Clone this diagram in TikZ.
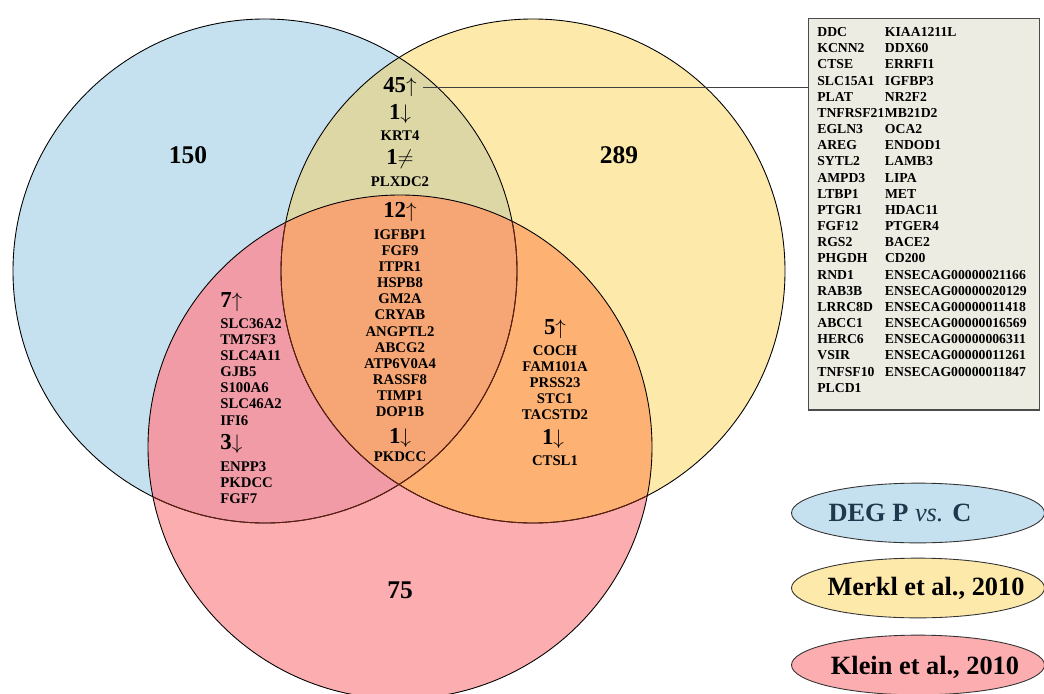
\documentclass[tikz,border=0pt]{standalone}
\usepackage{amsmath, amssymb, xcolor}
\usepackage{fontspec}
\setmainfont{Liberation Serif}
\usepackage{tikz}
\usetikzlibrary{shapes, positioning}

\definecolor{setblue}{RGB}{197,224,238}
\definecolor{setyellow}{RGB}{253,233,170}
\definecolor{setpink}{RGB}{251,173,176}
\definecolor{blueyellow}{RGB}{221,214,165}
\definecolor{bluepink}{RGB}{240,155,166}
\definecolor{yellowpink}{RGB}{253,178,116}
\definecolor{allsets}{RGB}{246,166,116}
\definecolor{innerline}{RGB}{100,30,15}
\definecolor{boxfill}{RGB}{236,236,226}
\definecolor{degtext}{RGB}{31,56,77}

\begin{document}
\begin{tikzpicture}[x=0.02cm, y=-0.02cm]
            \useasboundingbox (0,0) rectangle (1044,693);
            \coordinate (B) at (265,271);
            \coordinate (Y) at (533,271);
            \coordinate (K) at (400,447);

            % the three sets and their overlaps
            \fill[setblue] (B) circle (252);
            \fill[setyellow] (Y) circle (252);
            \fill[setpink] (K) circle (252);
            \begin{scope}
                \clip (B) circle (252);
                \fill[blueyellow] (Y) circle (252);
                \fill[bluepink] (K) circle (252);
            \end{scope}
            \begin{scope}
                \clip (Y) circle (252);
                \fill[yellowpink] (K) circle (252);
                \clip (B) circle (252);
                \fill[allsets] (K) circle (252);
            \end{scope}

            \begin{scope}[line width=0.5pt]
                \draw (B) circle (252);
                \draw (Y) circle (252);
                \draw (K) circle (252);
                \clip (K) circle (252);
                \draw[innerline] (B) circle (252);
                \draw[innerline] (Y) circle (252);
            \end{scope}

            \begin{scope}[every node/.style={font=\bfseries\fontsize{14.5}{16}\selectfont}]
                \node (nB) at (188,155) {150};
                \node (nY) at (619,155) {289};
                \node (nK) at (400,590) {75};
            \end{scope}

            \begin{scope}[count/.style={font=\bfseries\fontsize{13}{14}\selectfont},
                          gene/.style={font=\bfseries\fontsize{8.4}{9.2}\selectfont, inner sep=0pt, align=center}]
                % B and Y
                \node[count] (n45) at (400,87) {45$\uparrow$};
                \node[count] (n1a) at (400,114) {1$\downarrow$};
                \node[gene] (krt) at (400,136) {KRT4};
                \node[count] (n1b) at (400,159) {1$\neq$};
                \node[gene] (plx) at (400,182) {PLXDC2};
                % B, Y and K
                \node[count] (n12) at (400,212) {12$\uparrow$};
                \node[gene, anchor=north] (core) at (400,229) {IGFBP1\\FGF9\\ITPR1\\HSPB8\\GM2A\\CRYAB\\ANGPTL2\\ABCG2\\ATP6V0A4\\RASSF8\\TIMP1\\DOP1B};
                \node[count] (n1c) at (400,438) {1$\downarrow$};
                \node[gene] (pkd) at (400,457) {PKDCC};
                % B and K
                \node[count, anchor=west, inner sep=0pt] (n7) at (220,302) {7$\uparrow$};
                \node[gene, anchor=north west, align=left] (bkup) at (220,318) {SLC36A2\\TM7SF3\\SLC4A11\\GJB5\\S100A6\\SLC46A2\\IFI6};
                \node[count, anchor=west, inner sep=0pt] (n3) at (220,444) {3$\downarrow$};
                \node[gene, anchor=north west, align=left] (bkdown) at (220,461) {ENPP3\\PKDCC\\FGF7};
                % Y and K
                \node[count] (n5) at (555,329) {5$\uparrow$};
                \node[gene, anchor=north] (ykup) at (555,345) {COCH\\FAM101A\\PRSS23\\STC1\\TACSTD2};
                \node[count] (n1d) at (553,439) {1$\downarrow$};
                \node[gene] (ctsl) at (555,461) {CTSL1};
            \end{scope}

            % gene list of the 45 up
            \node[draw=black!70, fill=boxfill, line width=0.6pt, anchor=north west, inner sep=0pt,
                  minimum width=131.5pt, minimum height=222.8pt] (list) at (808,18) {};
            \node[anchor=north west, inner sep=0pt, font=\bfseries\fontsize{7.8}{9.2}\selectfont] (listtext) at (817,25) {%
                \begin{tabular}{@{}p{38.5pt}@{}l@{}}
                DDC & KIAA1211L\\
                KCNN2 & DDX60\\
                CTSE & ERRFI1\\
                SLC15A1 & IGFBP3\\
                PLAT & NR2F2\\
                TNFRSF21 & MB21D2\\
                EGLN3 & OCA2\\
                AREG & ENDOD1\\
                SYTL2 & LAMB3\\
                AMPD3 & LIPA\\
                LTBP1 & MET\\
                PTGR1 & HDAC11\\
                FGF12 & PTGER4\\
                RGS2 & BACE2\\
                PHGDH & CD200\\
                RND1 & ENSECAG00000021166\\
                RAB3B & ENSECAG00000020129\\
                LRRC8D & ENSECAG00000011418\\
                ABCC1 & ENSECAG00000016569\\
                HERC6 & ENSECAG00000006311\\
                VSIR & ENSECAG00000011261\\
                TNFSF10 & ENSECAG00000011847\\
                PLCD1 &
                \end{tabular}};
            \draw[black!75, line width=0.5pt] (n45.east) -- (n45.east -| list.west);

            % legend
            \begin{scope}[every node/.style={ellipse, draw=black!80, line width=0.5pt,
                          minimum width=144pt, minimum height=34pt, inner sep=0pt}]
                \node[fill=setblue] (legB) at (918,513) {};
                \node[fill=setyellow] (legY) at (918,588) {};
                \node[fill=setpink] (legK) at (918,665) {};
            \end{scope}
            \begin{scope}[every node/.style={font=\bfseries\fontsize{15}{16}\selectfont}]
                \node[text=degtext] (labB) at (900,513) {DEG P \textit{\mdseries vs.} C};
                \node (labY) at (926,588) {Merkl et al., 2010};
                \node (labK) at (925,667) {Klein et al., 2010};
            \end{scope}
\end{tikzpicture}
\end{document}
